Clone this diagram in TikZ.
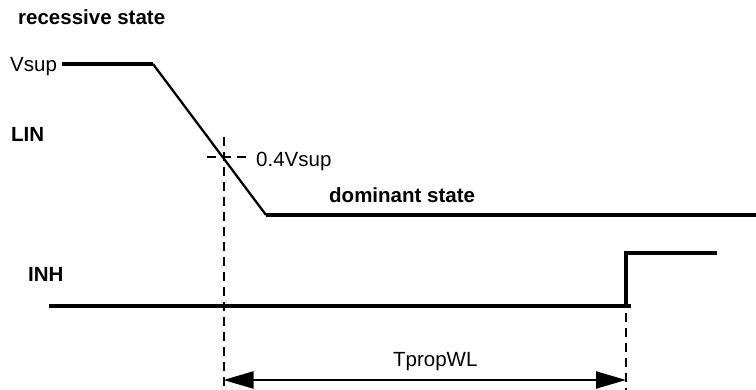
\documentclass[tikz,border=0pt]{standalone}
\usepackage{fontspec}
\setmainfont{Liberation Sans}
\usetikzlibrary{arrows.meta}

\begin{document}
\begin{tikzpicture}[x=1pt,y=-1pt,
  signal/.style={line width=3.2pt},
  edge/.style={line width=2.3pt},
  guide/.style={line width=2pt,dash pattern=on 9pt off 6pt},
  lbl/.style={anchor=base west,inner sep=0pt,font=\fontsize{20.5}{24}\selectfont},
  blbl/.style={anchor=base west,inner sep=0pt,font=\fontsize{20.5}{24}\selectfont\bfseries}]
\useasboundingbox (0,0) rectangle (756,390);
\def\tipsize{Triangle[length=30pt,width=17pt]}
% labels
\node[blbl] (recessive) at (18,25) {recessive state};
\node[lbl] (vsup) at (10,71.5) {Vsup};
\node[blbl] (lin) at (11,141.5) {LIN};
\node[lbl] (level) at (256,166.5) {0.4Vsup};
\node[blbl] (dominant) at (329,202.5) {dominant state};
\node[blbl] (inh) at (28,281.5) {INH};
\node[lbl] (tprop) at (393,366.5) {TpropWL};
% LIN signal
\coordinate (linstart) at (62,64);
\coordinate (fallstart) at (153,64);
\coordinate (fallend) at (266,215);
\coordinate (linend) at (756,215);
\draw[signal] (linstart) -- (fallstart);
\draw[edge] (fallstart) -- (fallend);
\draw[signal] (fallend) -- (linend);
% INH signal
\coordinate (inhstart) at (49,306);
\coordinate (inhstub) at (631,306);
\coordinate (risebot) at (626,306);
\coordinate (risetop) at (626,253);
\coordinate (inhend) at (717,253);
\draw[signal] (inhstart) -- (inhstub);
\draw[signal] (risebot) -- (risetop) -- (inhend);
% guides
\coordinate (cross) at (223.5,157);
\coordinate (guidetop) at (223.5,137);
\coordinate (guidebot) at (223.5,390);
\coordinate (ticklft) at (207,157);
\coordinate (tickrgt) at (246,157);
\coordinate (rguidetop) at (626,253);
\coordinate (rguidebot) at (626,390);
\draw[guide] (guidetop) -- (guidebot);
\draw[guide] (ticklft) -- (tickrgt);
\draw[guide] (rguidetop) -- (rguidebot);
% propagation time
\coordinate (arrowlft) at (223.5,380);
\coordinate (arrowrgt) at (626,380);
\draw[edge,{\tipsize}-{\tipsize}] (arrowlft) -- (arrowrgt);
\end{tikzpicture}
\end{document}
